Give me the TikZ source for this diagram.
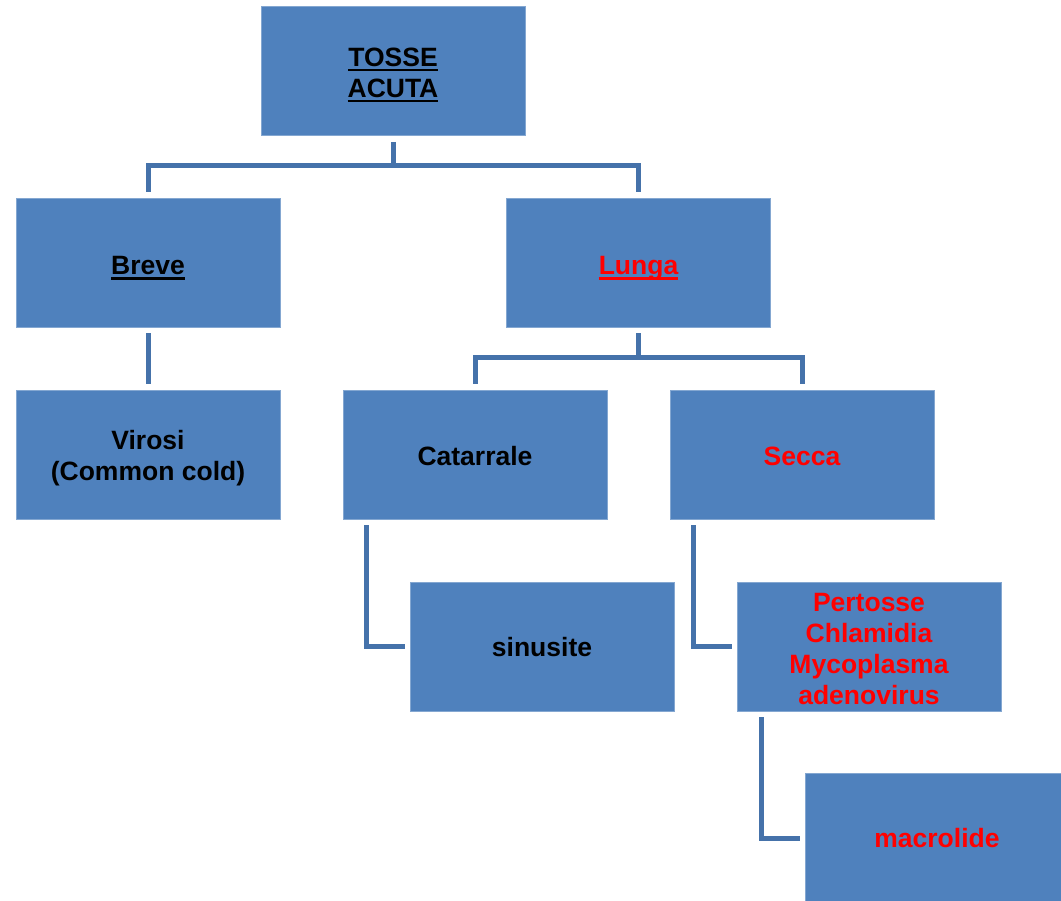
\documentclass[tikz,border=0pt]{standalone}
\usepackage{fontspec}
\setmainfont{Liberation Sans}
\definecolor{boxblue}{HTML}{4F81BD}
\definecolor{linkblue}{RGB}{69,114,170}
\definecolor{txtred}{HTML}{FF0000}
\newcommand{\myul}[1]{\setbox0\hbox{#1}\rlap{\smash{\rule[-5.2pt]{\wd0}{2.5pt}}}\box0}
\begin{document}
\begin{tikzpicture}[x=1pt,y=-1pt,
  box/.style={draw=boxblue!70!white, line width=0.6pt, fill=boxblue, minimum width=264pt, minimum height=129pt,
    inner sep=0pt},
  txt/.style={inner sep=0pt, align=center, font=\bfseries\fontsize{26.5pt}{31pt}\selectfont},
  conn/.style={draw=linkblue, line width=5pt, line join=miter, line cap=butt},
  red/.style={text=txtred}]
\useasboundingbox (0,0) rectangle (1061,901);
\clip (0,0) rectangle (1061,901);
\node[box] (T) at (393,71) {};
\node[box] (B) at (148,262.5) {};
\node[box] (L) at (638.5,262.5) {};
\node[box] (V) at (148,454.5) {};
\node[box] (C) at (475,454.5) {};
\node[box] (S) at (802,454.5) {};
\node[box] (SI) at (542,646.5) {};
\node[box] (P) at (869,646.5) {};
\node[box] (M) at (937,838) {};
% texts
\node[txt] (Tt) at ([yshift=-1.5pt]T.center) {\myul{TOSSE}\\\myul{ACUTA}};
\node[txt] (Bt) at ([yshift=-3pt]B.center) {\myul{Breve}};
\node[txt, red] (Lt) at ([yshift=-5.5pt]L.center) {\color{txtred}\myul{Lunga}};
\node[txt] (Vt) at ([yshift=-4pt]V.center) {Virosi\\(Common cold)};
\node[txt] (Ct) at ([yshift=-2pt]C.center) {Catarrale};
\node[txt, red] (St) at ([yshift=-2pt]S.center) {Secca};
\node[txt] (SIt) at ([yshift=-1pt]SI.center) {sinusite};
\node[txt, red] (Pt) at ([yshift=-3pt]P.center) {Pertosse\\Chlamidia\\Mycoplasma\\adenovirus};
\node[txt, red] (Mt) at (M.center) {macrolide};
% connectors
\draw[conn] ([yshift=-6pt]T.south) -- ++(0,24) coordinate (tj);
\draw[conn] ([yshift=6pt]B.north) |- (tj) -| ([yshift=6pt]L.north);
\draw[conn] ([yshift=-6pt]L.south) -- ++(0,24) coordinate (lj);
\draw[conn] ([yshift=6pt]C.north) |- (lj) -| ([yshift=6pt]S.north);
\draw[conn] ([yshift=-6pt]B.south) -- ([yshift=6pt]V.north);
\draw[conn] ([xshift=24pt,yshift=-6pt]C.south west) |- ([xshift=-5pt]SI.west);
\draw[conn] ([xshift=24pt,yshift=-6pt]S.south west) |- ([xshift=-5pt]P.west);
\draw[conn] ([xshift=25pt,yshift=-6pt]P.south west) |- ([xshift=-5pt]M.west);
\end{tikzpicture}
\end{document}
